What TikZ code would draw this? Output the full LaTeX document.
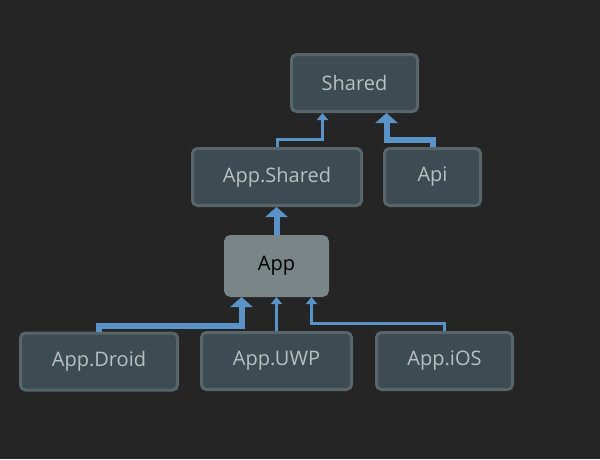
\documentclass[tikz,border=0pt]{standalone}
\usepackage{fontspec}
\setmainfont{Open Sans}
\usetikzlibrary{arrows.meta,positioning}
\definecolor{bgcol}{HTML}{252525}
\definecolor{boxfill}{HTML}{3D4C53}
\definecolor{boxline}{HTML}{58656B}
\definecolor{boxtext}{HTML}{B8BFC2}
\definecolor{appfill}{HTML}{7A8588}
\definecolor{depblue}{HTML}{5A93C8}
\begin{document}
\begin{tikzpicture}[x=1pt,y=-1pt,every node/.style={outer sep=0pt},
 proj/.style={draw=boxline,fill=boxfill,line width=3pt,rounded corners=5pt,
 outer sep=1.5pt,text=boxtext,font=\fontsize{20}{24}\selectfont,minimum height=57pt},
 main/.style={proj,fill=appfill,draw=appfill,text=black,minimum height=59pt},
 weak/.style={draw=depblue,line width=3pt,-{Triangle[width=11pt,length=7pt]}},
 strong/.style={draw=depblue,line width=6pt,-{Triangle[width=22pt,length=10pt]}}]

  \fill[bgcol] (0,0) rectangle (600,459);

  \node[proj,minimum width=126pt] (shared) at (354.5,83) {Shared};
  \node[proj,minimum width=169pt] (appshared) at (277,177) {App.Shared};
  \node[proj,minimum width=96pt] (api) at (432.5,177) {Api};
  \node[main,minimum width=102pt] (app) at (276.5,266) {App};
  \node[proj,minimum width=157pt] (droid) at (99,361.5) {App.Droid};
  \node[proj,minimum width=150pt] (uwp) at (276.5,361) {App.UWP};
  \node[proj,minimum width=136pt] (ios) at (444.5,361) {App.iOS};

\draw [weak] (appshared.north) -- ++(0pt,8pt) -| ([xshift=-32pt]shared.south);
\draw [strong] (api.north) -- ++(0pt,7pt) -| ([xshift=32pt]shared.south);
\draw [strong] (app.north) -- (app.north |- appshared.south);
\draw [strong] (droid.north) -- ++(0pt,6pt) -| ([xshift=-35pt]app.south);
\draw [weak] (uwp.north) -- (uwp.north |- app.south);
\draw [weak] (ios.north) -- ++(0pt,8pt) -| ([xshift=35pt]app.south);

\end{tikzpicture}
\end{document}
